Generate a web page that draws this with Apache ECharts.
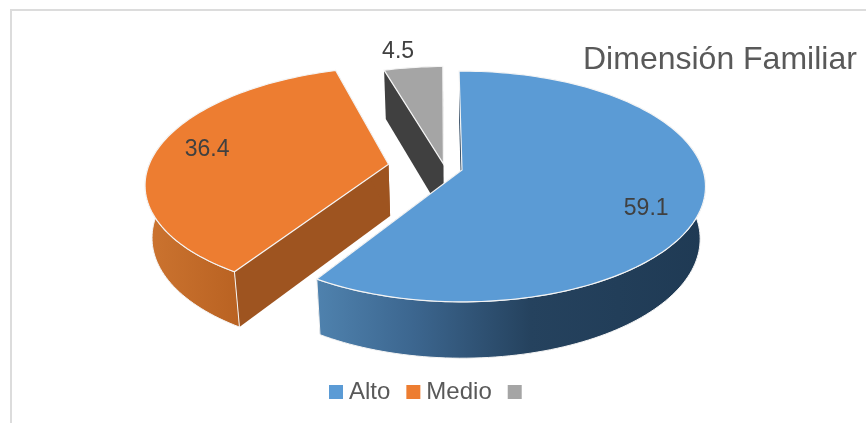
<!DOCTYPE html>
<html><head><meta charset="utf-8">
<style>html,body{margin:0;padding:0;background:#fff}#c{width:866px;height:423px}</style>
<script src="https://cdn.jsdelivr.net/npm/echarts@6/dist/echarts.min.js"></script>
</head><body><div id="c"></div>
<script>
const categories = ['Alto', 'Medio', ' '];
const values = [59.1, 36.4, 4.5];
const labels = ['59.1', '36.4', '4.5'];
const chartTitle = 'Dimensión Familiar';

const topColors = ['#5b9bd5', '#ed7d31', '#a5a5a5'];
const faceColors = ['#1f3a54', '#9e5420', '#404040'];
const wallStops = [
  [[0, '#4f82ae'], [0.25, '#3c668f'], [0.55, '#25425e'], [1, '#1f3a54']],
  [[0, '#cc7430'], [1, '#b96222']],
  [[0, '#404040'], [1, '#404040']]
];
// Exploded-slice distance along mid angle and small screen adjust for the labels
const explode = [0.075, 0.237, 0.035];
const labelRadius = [0.77, 0.78, 1.2];
const labelShift = [[0, 15], [0, -3], [-10, 1]];

const view = { cx: 462, cy: 170, A: 241, B: 113, k: 0.143, m: 0.022, depth: 52, start: -0.8 };

function project(u, v, h) {
  const s = 1 / (1 + view.k * v);
  const sx = s * (1 - view.m * h);
  return [view.cx + view.A * u * sx, view.cy - view.B * v * s + view.depth * h * (1 + s) / 2];
}
const total = values.reduce((a, b) => a + b, 0);
const spans = [];
values.reduce((acc, val) => {
  spans.push([acc, acc + val / total * 360]);
  return acc + val / total * 360;
}, view.start);

const rad = d => d * Math.PI / 180;

function sliceChildren(i) {
  const [a0, a1] = spans[i];
  const mid = (a0 + a1) / 2;
  const baseMid = rad((spans[0][0] + spans[0][1]) / 2);
  // The projection centre sits on the first slice's apex, the others are measured relative to it
  const ou = Math.sin(rad(mid)) * explode[i] - Math.sin(baseMid) * explode[0];
  const ov = Math.cos(rad(mid)) * explode[i] - Math.cos(baseMid) * explode[0];
  const n = Math.max(8, Math.ceil((a1 - a0) / 1.5));
  const angles = [];
  for (let j = 0; j <= n; j++) angles.push(rad(a0 + (a1 - a0) * j / n));
  const at = (t, h) => project(ou + Math.sin(t), ov + Math.cos(t), h);
  const topArc = angles.map(t => at(t, 0));
  const front = angles.filter(t => Math.cos(t) <= 0.2);
  const apexT = project(ou, ov, 0), apexB = project(ou, ov, 1);
  const edge = '#f4f4f4';
  const lr = labelRadius[i];
  const lp = project(ou + Math.sin(rad(mid)) * lr, ov + Math.cos(rad(mid)) * lr, 0);
  const kids = [
    { type: 'polygon', shape: { points: [apexT, topArc[0], at(angles[0], 1), apexB] }, style: { fill: faceColors[i] } },
    { type: 'polygon', shape: { points: [apexT, topArc[n], at(angles[n], 1), apexB] }, style: { fill: faceColors[i] } }
  ];
  if (front.length > 1) {
    kids.push({ type: 'polygon',
      shape: { points: front.map(t => at(t, 0)).concat(front.slice().reverse().map(t => at(t, 1))) },
      style: { stroke: edge, lineWidth: 1, fill: { type: 'linear', x: 0, y: 0, x2: 1, y2: 0,
        colorStops: wallStops[i].map(s => ({ offset: s[0], color: s[1] })) } } });
  }
  kids.push(
    { type: 'polygon', shape: { points: [apexT].concat(topArc) }, style: { fill: topColors[i], stroke: edge, lineWidth: 1.2 } },
    { type: 'text', style: { text: labels[i], x: lp[0] + labelShift[i][0], y: lp[1] + labelShift[i][1],
      fill: '#404040', font: '23px "Liberation Sans"', textAlign: 'center', verticalAlign: 'middle' } }
  );
  return kids;
}

const chart = echarts.init(document.getElementById('c'), null, { renderer: 'canvas' });
chart.setOption({
  animation: false,
  backgroundColor: '#fff',
  title: { text: chartTitle, left: 578, top: 39,
    textStyle: { fontFamily: 'Liberation Sans', fontSize: 32, fontWeight: 'normal', color: '#595959' } },
  legend: {
    left: 329, top: 380, padding: 0, itemWidth: 14, itemHeight: 14, itemGap: 16, icon: 'rect',
    data: categories,
    textStyle: { fontFamily: 'Liberation Sans', fontSize: 24, color: '#595959', padding: [0, 0, 0, 1] }
  },
  graphic: [{ type: 'rect', silent: true, z: -1, shape: { x: 11, y: 10, width: 900, height: 500 },
    style: { fill: 'none', stroke: '#dcdcdc', lineWidth: 2 } }],
  series: categories.map((name, i) => ({
    type: 'custom', name, coordinateSystem: 'none', z: 10 - i, silent: true,
    itemStyle: { color: topColors[i] },
    data: [values[i]],
    renderItem: () => ({ type: 'group', children: sliceChildren(i) })
  }))
});
</script></body></html>
